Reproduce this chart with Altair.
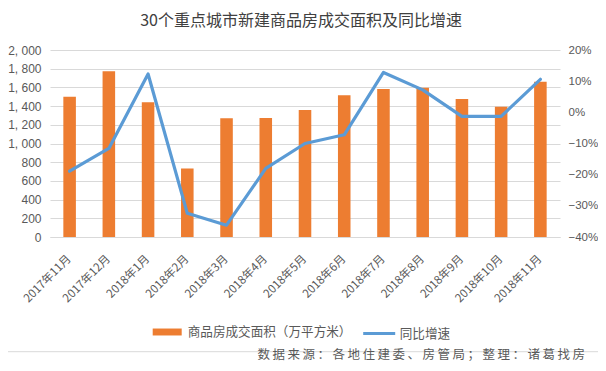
import altair as alt
import pandas as pd

months = ["2017年11月", "2017年12月", "2018年1月", "2018年2月", "2018年3月", "2018年4月",
          "2018年5月", "2018年6月", "2018年7月", "2018年8月", "2018年9月", "2018年10月", "2018年11月"]
area = [1499, 1774, 1442, 732, 1271, 1272, 1357, 1517, 1584, 1595, 1477, 1393, 1660]
yoy_pct = [-18.9, -11.6, 12.3, -32.4, -36.2, -18.0, -10.0, -7.2, 12.8, 7.2, -1.3, -1.3, 10.6]
left_ticks = [0, 200, 400, 600, 800, 1000, 1200, 1400, 1600, 1800, 2000]
right_ticks = [-0.4, -0.3, -0.2, -0.1, 0.0, 0.1, 0.2]
bar_label = "商品房成交面积（万平方米）"
line_label = "同比增速"
title_text = "30个重点城市新建商品房成交面积及同比增速"
source_text = "数据来源：各地住建委、房管局；整理：诸葛找房"

ORANGE = "#ED7D31"
BLUE = "#5B9BD5"
GRID = "#D9D9D9"
LABEL = "#595959"
CJK = "Noto Sans CJK SC"

df = pd.DataFrame({
    "month": months,
    "area": area,
    "yoy": [v / 100 for v in yoy_pct],
    "s_bar": [bar_label] * len(months),
    "s_line": [line_label] * len(months),
})

x_enc = alt.X(
    "month:N", sort=months, title=None,
    scale=alt.Scale(paddingInner=0.68, paddingOuter=0.34),
    axis=alt.Axis(labelAngle=315, labelAlign="right", labelBaseline="middle",
                  labelPadding=20, ticks=False, domain=True, domainColor=GRID,
                  labelFont=CJK, labelFontSize=11.5, labelColor=LABEL,
                  labelOverlap=False, grid=False),
)

bars = alt.Chart(df).mark_bar(color=ORANGE).encode(
    x=x_enc,
    y=alt.Y("area:Q", scale=alt.Scale(domain=[0, 2000], nice=False),
            axis=alt.Axis(values=left_ticks, title=None, orient="left", ticks=False,
                          domain=False, grid=True, gridColor=GRID,
                          labelExpr="replace(format(datum.value, ','), ',', ', ')",
                          labelFont="Liberation Sans", labelFontSize=12,
                          labelColor=LABEL, labelPadding=9)),
    color=alt.Color("s_bar:N", scale=alt.Scale(domain=[bar_label], range=[ORANGE]),
                    legend=alt.Legend(title=None, orient="none", legendX=102.7, legendY=267.5,
                                      symbolType="M-1,-0.24H1V0.24H-1Z", symbolSize=841,
                                      symbolStrokeWidth=0, labelFont=CJK, labelFontSize=12.6,
                                      labelColor=LABEL, labelOffset=6, labelLimit=400,
                                      padding=0)),
)

line = alt.Chart(df).mark_line(strokeWidth=3.2, strokeJoin="round", strokeCap="round").encode(
    x=x_enc,
    y=alt.Y("yoy:Q", scale=alt.Scale(domain=[-0.4, 0.2], nice=False, zero=False),
            axis=alt.Axis(values=right_ticks, format=".0%", orient="right", title=None,
                          ticks=False, domain=False, grid=False,
                          labelFont="Liberation Sans", labelFontSize=11.5,
                          labelColor=LABEL, labelPadding=8)),
    stroke=alt.Stroke("s_line:N", scale=alt.Scale(domain=[line_label], range=[BLUE]),
                      legend=alt.Legend(title=None, orient="none", legendX=311.7, legendY=266,
                                        symbolType="stroke", symbolSize=1024,
                                        symbolStrokeWidth=3, labelFont=CJK, labelFontSize=12.6,
                                        labelColor=LABEL, labelOffset=3, labelLimit=200,
                                        padding=0)),
)

title_layer = alt.Chart(pd.DataFrame({"t": [title_text]})).mark_text(
    font=CJK, fontSize=16, color="#404040", align="center", baseline="middle"
).encode(text="t:N", x=alt.value(251), y=alt.value(-29))

sep = alt.Chart(pd.DataFrame({"k": [0]})).mark_rule(color=GRID, strokeWidth=1).encode(
    x=alt.value(-42), x2=alt.value(548), y=alt.value(301.7))

src_layer = alt.Chart(pd.DataFrame({"t": ["\u2009".join(source_text)]})).mark_text(
    font=CJK, fontSize=12.5, color=LABEL, align="right", baseline="middle"
).encode(text="t:N", x=alt.value(535), y=alt.value(305))

chart = alt.layer(bars, line, title_layer, sep, src_layer).resolve_scale(
    y="independent"
).properties(
    width=510, height=187,
    padding={"left": 42, "top": 42, "right": 38, "bottom": 126},
    autosize=alt.AutoSizeParams(type="none"),
).configure_view(strokeWidth=0)

chart.save("out.html", embed_options={"renderer": "svg", "actions": False})
